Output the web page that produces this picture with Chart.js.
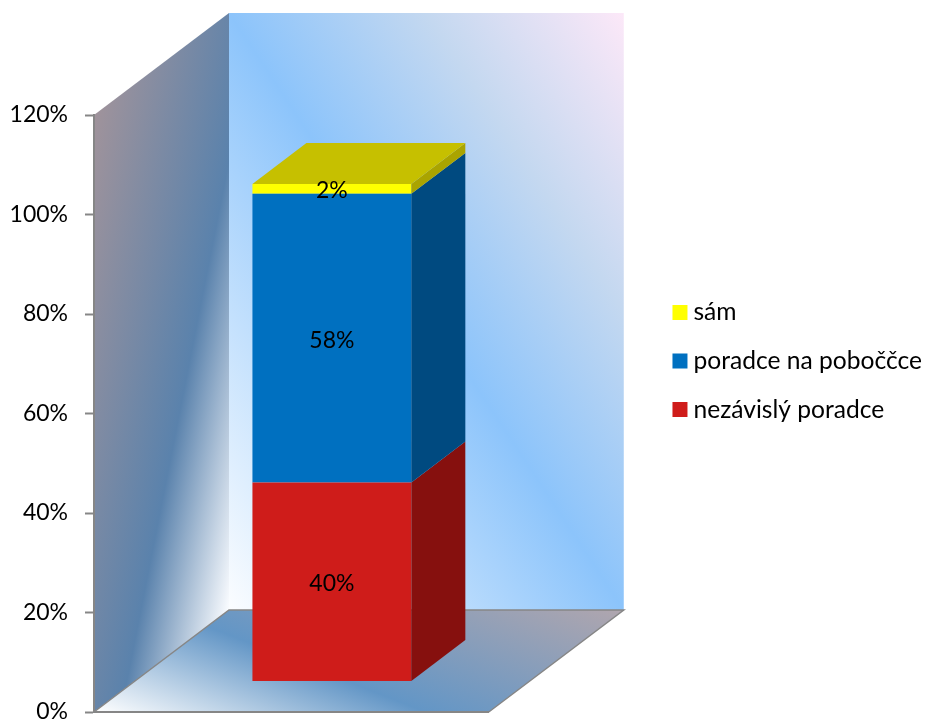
<!DOCTYPE html>
<html>
<head>
<meta charset="utf-8">
<style>
  body { margin: 0; background: #fff; }
</style>
<script src="https://cdn.jsdelivr.net/npm/chart.js@4"></script>
</head>
<body>
<canvas id="chart" width="926" height="724"></canvas>
<script>
const categories = [""];
const seriesNames = ["nezávislý poradce", "poradce na poboččce", "sám"];
const nezavisly = [0.40];
const poradce = [0.58];
const sam = [0.02];
const tickMax = 1.2;
const tickStep = 0.2;

const colors = ["#cf1c1a", "#0070c0", "#ffff00"];
const sideColors = ["#86100e", "#004a80", "#aaa400"];
const topColor = "#c6c000";
const axisColor = "#868686";
const fontName = "Lato, sans-serif";

// depth of the 3D box, the bar sits in the middle of it
const depthX = 135;
const depthY = -102;
const barShift = 0.3;
const barDepth = 0.4;

const pct = v => Math.round(v * 100) + "%";

function poly(ctx, pts, fill) {
  ctx.beginPath();
  pts.forEach((p, i) => i ? ctx.lineTo(p[0], p[1]) : ctx.moveTo(p[0], p[1]));
  ctx.closePath();
  ctx.fillStyle = fill;
  ctx.fill();
}

// linear gradient from a to b whose colour bands run along direction d
function bandGradient(ctx, a, b, d, stops) {
  let len = Math.hypot(d[0], d[1]);
  let n = [d[1] / len, -d[0] / len];
  let k = (b[0] - a[0]) * n[0] + (b[1] - a[1]) * n[1];
  let g = ctx.createLinearGradient(a[0], a[1], a[0] + n[0] * k, a[1] + n[1] * k);
  stops.forEach(s => g.addColorStop(s[0], s[1]));
  return g;
}

const box3d = {
  id: "box3d",
  afterLayout(chart) {
    // legend is centred on the whole picture, not on the plot
    const shift = (chart.legend.top + chart.legend.bottom) / 2 - 361;
    chart.legend.top -= shift;
    chart.legend.bottom -= shift;
    chart.legend.left += 6;
    chart.legend.right += 6;
  },
  beforeDraw(chart) {
    const ctx = chart.ctx;
    const {left, right, top, bottom} = chart.chartArea;
    const bl = [left + depthX, bottom + depthY];
    const br = [right + depthX, bottom + depthY];
    const tl = [left + depthX, top + depthY];
    const tr = [right + depthX, top + depthY];

    // back wall
    poly(ctx, [tl, tr, br, bl], bandGradient(ctx, bl, tr, [br[0] - tl[0], br[1] - tl[1]], [
      [0, "#fbfdff"], [0.5, "#8cc4fb"], [0.75, "#c4d8f0"], [1, "#fce8f8"]
    ]));
    // left wall
    poly(ctx, [[left, top], tl, bl, [left, bottom]], bandGradient(ctx, [left, top], bl, [-104, 530], [
      [0, "#a0939b"], [0.62, "#5a82ac"], [1, "#fafcff"]
    ]));
    // floor
    poly(ctx, [[left, bottom], [right, bottom], br, bl], bandGradient(ctx, [left, bottom], br, [260, 102], [
      [0, "#ffffff"], [0.42, "#6396c6"], [1, "#b0a6ae"]
    ]));

    ctx.strokeStyle = axisColor;
    ctx.lineWidth = 1.5;
    ctx.beginPath();
    ctx.moveTo(left, bottom);
    ctx.lineTo(bl[0], bl[1]);
    ctx.lineTo(br[0], br[1]);
    ctx.lineTo(right, bottom);
    ctx.stroke();
  },
  beforeDatasetsDraw(chart) {
    // the front face stands inside the box, not on the axis plane
    chart.ctx.save();
    chart.ctx.translate(depthX * barShift, depthY * barShift);
  },
  afterDatasetsDraw(chart) {
    const ctx = chart.ctx;
    const dx = depthX * barDepth;
    const dy = depthY * barDepth;
    let last;
    chart.data.datasets.forEach((ds, i) => {
      const bar = chart.getDatasetMeta(i).data[0];
      const xr = bar.x + bar.width / 2;
      poly(ctx, [[xr, bar.base], [xr + dx, bar.base + dy], [xr + dx, bar.y + dy], [xr, bar.y]], sideColors[i]);
      last = bar;
    });
    const xl = last.x - last.width / 2;
    const xr = last.x + last.width / 2;
    poly(ctx, [[xl, last.y], [xl + dx, last.y + dy], [xr + dx, last.y + dy], [xr, last.y]], topColor);

    ctx.fillStyle = "#000";
    ctx.font = "23px " + fontName;
    ctx.textAlign = "center";
    ctx.textBaseline = "middle";
    chart.data.datasets.forEach((ds, i) => {
      const bar = chart.getDatasetMeta(i).data[0];
      ctx.fillText(pct(ds.data[0]), bar.x, (bar.y + bar.base) / 2 + 2);
    });
    ctx.restore();
  }
};

new Chart(document.getElementById("chart"), {
  type: "bar",
  plugins: [box3d],
  data: {
    labels: categories,
    datasets: [nezavisly, poradce, sam].map((values, i) => ({
      label: seriesNames[i],
      data: values,
      backgroundColor: colors[i],
      clip: false,
      categoryPercentage: 1,
      barPercentage: 0.4025
    }))
  },
  options: {
    responsive: false,
    animation: false,
    layout: {padding: {top: 115, bottom: 12, left: 0, right: 0}},
    scales: {
      x: {
        stacked: true,
        grid: {display: false},
        ticks: {display: false},
        border: {color: axisColor, width: 2},
        afterFit: s => { s.height = 0; }
      },
      y: {
        stacked: true,
        min: 0,
        max: tickMax,
        ticks: {
          stepSize: tickStep,
          callback: v => pct(v),
          color: "#000",
          padding: 17,
          font: {family: fontName, size: 23}
        },
        grid: {drawOnChartArea: false, tickLength: 9, tickColor: axisColor, tickWidth: 2},
        border: {color: axisColor, width: 2},
        afterFit: s => { s.width = 94; s.paddingTop = 0; s.paddingBottom = 0; }
      },
      // empty axis, only keeps the plot away from the legend
      spacer: {
        position: "right",
        display: true,
        ticks: {display: false},
        grid: {display: false},
        border: {display: false},
        afterFit: s => { s.width = 160; s.paddingTop = 0; s.paddingBottom = 0; }
      }
    },
    plugins: {
      tooltip: {enabled: false},
      legend: {
        position: "right",
        reverse: true,
        maxWidth: 300,
        labels: {
          color: "#000",
          font: {family: fontName, size: 24.6},
          boxWidth: 2.4,
          boxHeight: 2.4,
          padding: 24,
          // a thick stroke makes the square bigger without moving the text away
          generateLabels(chart) {
            return Chart.defaults.plugins.legend.labels.generateLabels(chart).map(item => {
              item.strokeStyle = item.fillStyle;
              item.lineWidth = 12.6;
              return item;
            });
          }
        }
      }
    }
  }
});
</script>
</body>
</html>
